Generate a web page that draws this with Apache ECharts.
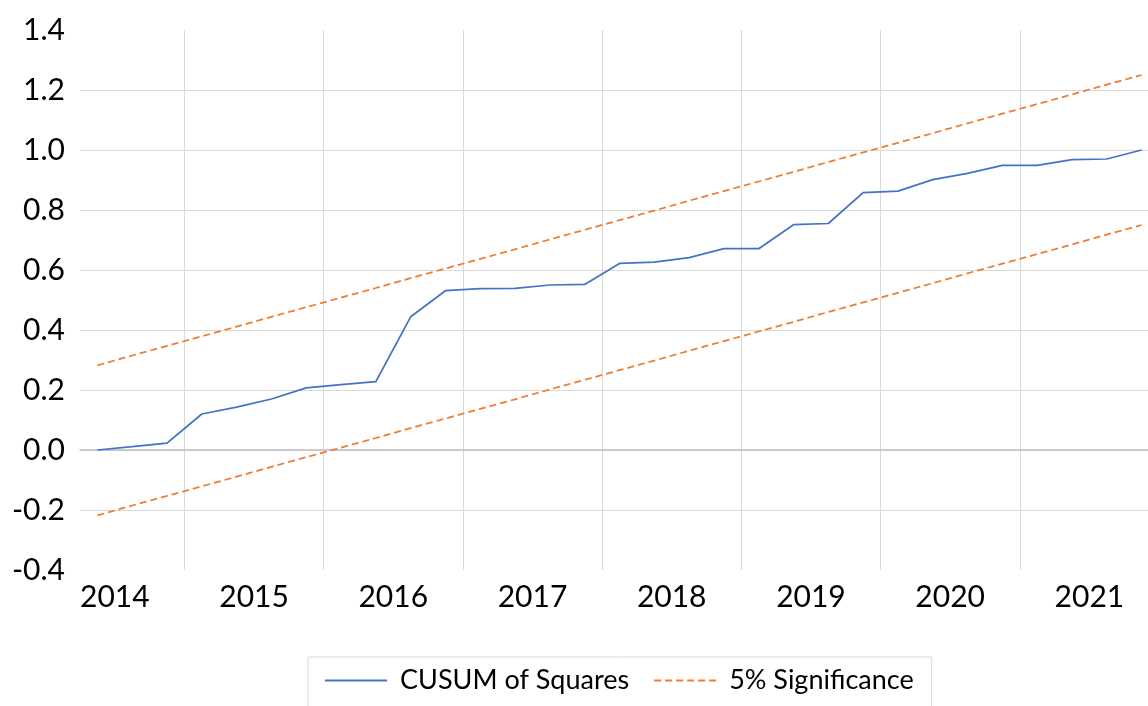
<!DOCTYPE html>
<html>
<head>
<meta charset="utf-8">
<script src="https://cdn.jsdelivr.net/npm/echarts@6/dist/echarts.min.js"></script>
<style>
  html, body { margin: 0; padding: 0; background: #fff; overflow: hidden; }
  /* 图表比窗口略宽，右侧被裁掉，和原图一样 */
  #chart { width: 1170px; height: 706px; }
</style>
</head>
<body>
<div id="chart"></div>
<script>
// 年份刻度
var years = ['2014', '2015', '2016', '2017', '2018', '2019', '2020', '2021'];
// 季度（2014Q2 ~ 2021Q4）
var quarters = [
  '2014Q2', '2014Q3', '2014Q4',
  '2015Q1', '2015Q2', '2015Q3', '2015Q4',
  '2016Q1', '2016Q2', '2016Q3', '2016Q4',
  '2017Q1', '2017Q2', '2017Q3', '2017Q4',
  '2018Q1', '2018Q2', '2018Q3', '2018Q4',
  '2019Q1', '2019Q2', '2019Q3', '2019Q4',
  '2020Q1', '2020Q2', '2020Q3', '2020Q4',
  '2021Q1', '2021Q2', '2021Q3', '2021Q4'
];
// CUSUM of Squares
var cusum = [
  0.000, 0.011, 0.023,
  0.120, 0.143, 0.170, 0.207,
  0.218, 0.228, 0.444, 0.531,
  0.538, 0.539, 0.550, 0.552,
  0.622, 0.626, 0.641, 0.671,
  0.671, 0.751, 0.755, 0.858,
  0.863, 0.901, 0.922, 0.949,
  0.949, 0.968, 0.970, 1.000
];
// 5% 显著性上下界
var upper = [
  0.282, 0.315, 0.347,
  0.379, 0.411, 0.444, 0.476,
  0.508, 0.540, 0.573, 0.605,
  0.637, 0.669, 0.702, 0.734,
  0.766, 0.798, 0.831, 0.863,
  0.895, 0.927, 0.960, 0.992,
  1.024, 1.056, 1.089, 1.121,
  1.153, 1.185, 1.218, 1.250
];
var lower = [
  -0.218, -0.185, -0.153,
  -0.121, -0.089, -0.056, -0.024,
  0.008, 0.040, 0.073, 0.105,
  0.137, 0.169, 0.202, 0.234,
  0.266, 0.298, 0.331, 0.363,
  0.395, 0.427, 0.460, 0.492,
  0.524, 0.556, 0.589, 0.621,
  0.653, 0.685, 0.718, 0.750
];

// 年份标签放在每年的中间（季度边界上）
var labelSlots = [];
for (var j = 0; j <= quarters.length; j++) {
  labelSlots.push(j % 4 === 1 ? years[(j - 1) / 4] : '');
}

var font = 'Lato';
var myChart = echarts.init(document.getElementById('chart'));

var option = {
  animation: false,
  backgroundColor: '#fff',
  grid: { left: 80, top: 30, right: 11, height: 540 },
  legend: {
    left: 308,
    top: 657,
    data: ['CUSUM of Squares', '5% Significance'],
    itemWidth: 62,
    itemHeight: 14,
    itemGap: 24,
    itemStyle: { opacity: 0 },
    borderColor: '#D9D9D9',
    borderWidth: 1,
    padding: [10, 18, 40, 16],
    textStyle: { fontFamily: font, fontSize: 27, color: '#000', padding: [0, 0, 0, 8] }
  },
  xAxis: [
    {
      type: 'category',
      data: quarters,
      boundaryGap: true,
      axisLine: { onZero: true, lineStyle: { color: '#BFBFBF', width: 1.5 } },
      axisTick: { show: false },
      axisLabel: { show: false },
      splitLine: {
        show: true,
        interval: function (i) { return i % 4 === 3; },
        lineStyle: { color: '#D9D9D9', width: 1 }
      }
    },
    {
      type: 'category',
      data: labelSlots,
      boundaryGap: false,
      position: 'bottom',
      min: 0,
      max: quarters.length,
      axisLine: { show: false, onZero: false },
      axisTick: { show: false },
      splitLine: { show: false },
      axisLabel: { interval: 0, margin: 12, fontFamily: font, fontSize: 30, color: '#000' }
    }
  ],
  yAxis: {
    type: 'value',
    min: -0.4,
    max: 1.4,
    interval: 0.2,
    axisLine: { show: false },
    axisTick: { show: false },
    axisLabel: {
      margin: 15,
      fontFamily: font,
      fontSize: 30,
      color: '#000',
      formatter: function (v) { return Math.abs(v) < 1e-9 ? '0.0' : v.toFixed(1); }
    },
    splitLine: { lineStyle: { color: '#D9D9D9', width: 1 }, showMinLine: false, showMaxLine: false }
  },
  series: [
    {
      name: 'CUSUM of Squares',
      type: 'line',
      data: cusum,
      symbol: 'none',
      z: 3,
      lineStyle: { color: '#4472C4', width: 1.75 },
      itemStyle: { color: '#4472C4' }
    },
    {
      name: '5% Significance',
      type: 'line',
      data: upper,
      symbol: 'none',
      lineStyle: { color: '#ED7D31', width: 1.75, type: [7, 4] },
      itemStyle: { color: '#ED7D31' }
    },
    {
      name: '5% Significance',
      type: 'line',
      data: lower,
      symbol: 'none',
      lineStyle: { color: '#ED7D31', width: 1.75, type: [7, 4] },
      itemStyle: { color: '#ED7D31' }
    }
  ]
};

myChart.setOption(option);
</script>
</body>
</html>
